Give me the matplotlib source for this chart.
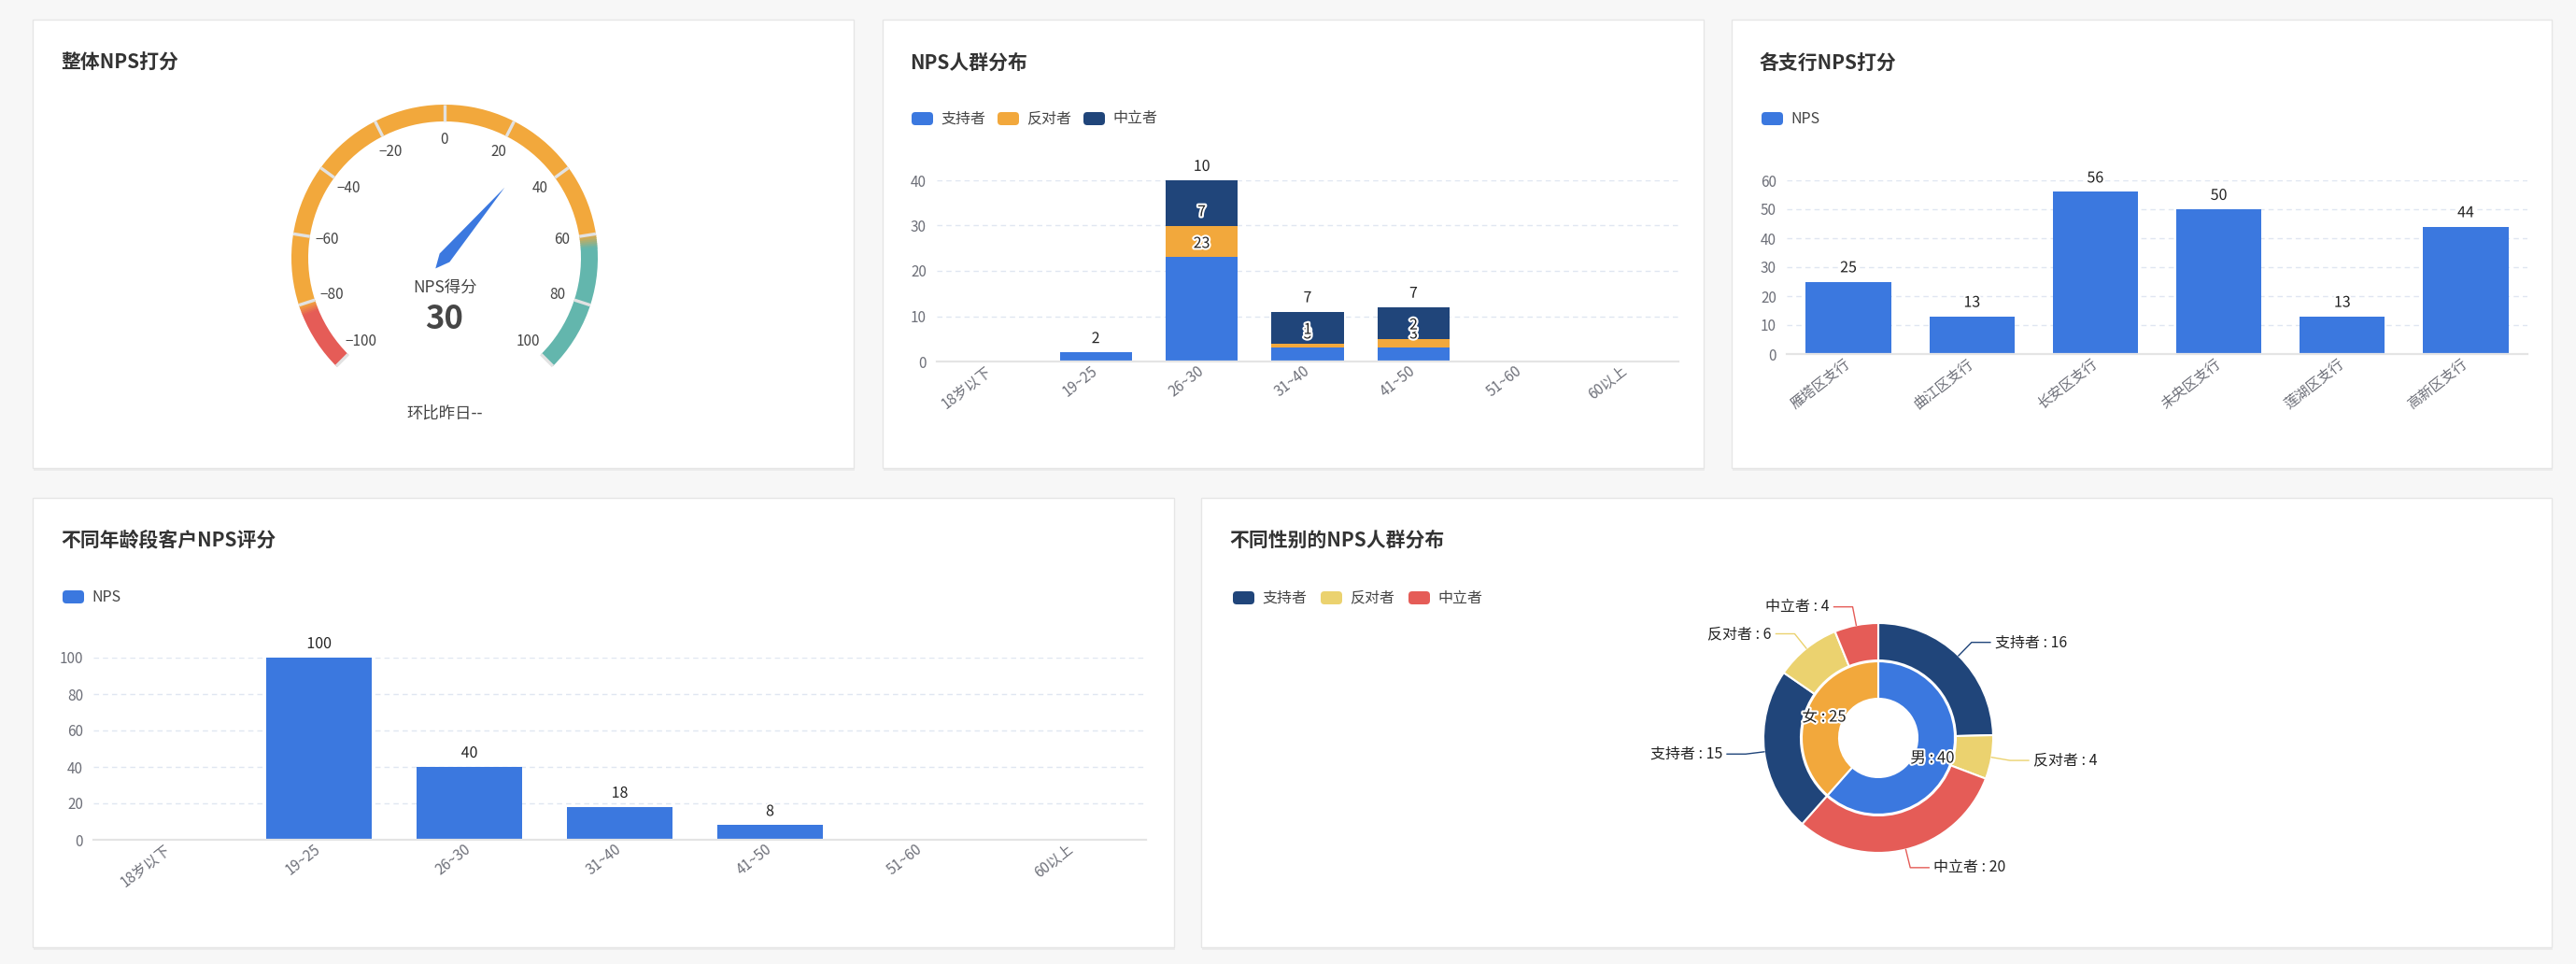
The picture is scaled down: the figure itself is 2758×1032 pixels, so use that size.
import matplotlib.pyplot as plt
import matplotlib.patheffects as pe
from matplotlib.colors import to_rgb
from matplotlib.patches import Wedge, FancyBboxPatch, Rectangle, Polygon
import numpy as np

# ---- 数据 ----
nps_score = 30
gauge_ticks = [-100, -80, -60, -40, -20, 0, 20, 40, 60, 80, 100]

age_groups = ['18岁以下', '19~25', '26~30', '31~40', '41~50', '51~60', '60以上']
group_names = ['支持者', '反对者', '中立者']
promoters = [0, 2, 23, 3, 3, 0, 0]
detractors = [0, 0, 7, 1, 2, 0, 0]
passives = [0, 0, 10, 7, 7, 0, 0]

branches = ['雁塔区支行', '曲江区支行', '长安区支行', '未央区支行', '莲湖区支行', '高新区支行']
branch_nps = [25, 13, 56, 50, 13, 44]

age_nps = [0, 100, 40, 18, 8, 0, 0]

genders = ['男', '女']
gender_counts = [40, 25]
ring_names = ['支持者', '反对者', '中立者', '支持者', '反对者', '中立者']
ring_counts = [16, 4, 20, 15, 6, 4]

# ---- 样式 ----
BLUE, ORANGE, NAVY = '#3b78df', '#f2a83c', '#20457a'
YELLOW, RED, TEAL = '#ebd26f', '#e55c57', '#63b6ad'
TXT, AXT = '#333333', '#6e7079'
halo = [pe.withStroke(linewidth=3, foreground='white')]

W, H = 2758, 1032
plt.rcParams['font.family'] = ['Noto Sans CJK SC', 'DejaVu Sans']

fig = plt.figure(figsize=(W / 100, H / 100), dpi=100, facecolor='#f7f7f7')
base = fig.add_axes([0, 0, 1, 1])
base.set_xlim(0, W)
base.set_ylim(0, H)
base.axis('off')


def Y(y):
    return H - y


# 卡片背景
panels = [(35, 21, 914, 501), (945, 21, 1824, 501), (1854, 21, 2732, 501),
          (35, 533, 1257, 1014), (1286, 533, 2732, 1014)]
for x0, y0, x1, y1 in panels:
    base.add_patch(Rectangle((x0 + 1, Y(y1) - 3), x1 - x0, y1 - y0, fc='#ececec', ec='none'))
    base.add_patch(Rectangle((x0, Y(y1)), x1 - x0, y1 - y0, fc='white', ec='#e6e6e6', lw=1))

titles = [('整体NPS打分', 65, 67), ('NPS人群分布', 974, 67), ('各支行NPS打分', 1884, 67),
          ('不同年龄段客户NPS评分', 65, 578), ('不同性别的NPS人群分布', 1316, 578)]
for t, x, y in titles:
    base.text(x, Y(y), t, fontsize=15, fontweight='bold', color=TXT, va='center', ha='left')


def legend(x, y, labels, colors, step=92):
    for i, (lab, col) in enumerate(zip(labels, colors)):
        xi = x + i * step
        base.add_patch(FancyBboxPatch((xi, Y(y) - 7), 23, 14,
                                      boxstyle='round,pad=0,rounding_size=4', fc=col, ec='none'))
        base.text(xi + 31, Y(y), lab, fontsize=11.5, color='#444444', va='center', ha='left')


legend(976, 127, group_names, [BLUE, ORANGE, NAVY])
legend(1886, 127, ['NPS'], [BLUE])
legend(67, 639, ['NPS'], [BLUE])
legend(1320, 640, group_names, [NAVY, YELLOW, RED], step=94)

# ---- 仪表盘 ----
gx, gy, gr, gw = 476, Y(276), 164, 18


def g_angle(v):
    return 225 - (v + 100) / 200 * 270


def band_color(f):
    c_r, c_o, c_t = np.array(to_rgb(RED)), np.array(to_rgb(ORANGE)), np.array(to_rgb(TEAL))
    if f < 0.085:
        return c_r
    if f < 0.1:
        return c_r + (c_o - c_r) * (f - 0.085) / 0.015
    if f < 0.8:
        return c_o
    if f < 0.82:
        return c_o + (c_t - c_o) * (f - 0.8) / 0.02
    return c_t


edges = list(np.linspace(0, 0.085, 2)) + list(np.linspace(0.085, 0.1, 7))[1:] + \
    [0.8] + list(np.linspace(0.8, 0.82, 8))[1:] + [1.0]
for f0, f1 in zip(edges[:-1], edges[1:]):
    a0, a1 = 225 - f0 * 270, 225 - f1 * 270
    base.add_patch(Wedge((gx, gy), gr, a1, a0 + 0.3, width=gw,
                         fc=band_color((f0 + f1) / 2), ec='none'))

for v in gauge_ticks:
    a = np.radians(g_angle(v))
    base.plot([gx + (gr - gw) * np.cos(a), gx + gr * np.cos(a)],
              [gy + (gr - gw) * np.sin(a), gy + gr * np.sin(a)],
              color='#e2e2e2', lw=2.4, solid_capstyle='butt')
    base.text(gx + 127 * np.cos(a), gy + 127 * np.sin(a), str(v).replace('-', '\u2212'),
              fontsize=11, color='#464646', ha='center', va='center')

a = np.radians(g_angle(nps_score))
u = np.array([np.cos(a), np.sin(a)])
n = np.array([-np.sin(a), np.cos(a)])
c = np.array([gx, gy])
needle = [c + u * 99, c + n * 7, c - u * 15, c - n * 7]
base.add_patch(Polygon(needle, closed=True, fc=BLUE, ec='none'))

base.text(gx, Y(308), 'NPS得分', fontsize=12.5, color='#444444', ha='center', va='center')
base.text(gx, Y(342), str(nps_score), fontsize=25, fontweight='bold', color='#464646',
          ha='center', va='center')
base.text(gx, Y(443), '环比昨日--', fontsize=12.5, color='#444444', ha='center', va='center')


# ---- 柱状图 ----
def bar_axes(left, right, top, bottom):
    ax = fig.add_axes([left / W, 1 - bottom / H, (right - left) / W, (bottom - top) / H])
    ax.patch.set_visible(False)
    for s in ['top', 'right', 'left']:
        ax.spines[s].set_visible(False)
    ax.spines['bottom'].set_color('#e4e4e4')
    ax.spines['bottom'].set_linewidth(1.6)
    ax.grid(axis='y', linestyle=(0, (4, 3)), color='#e0e6f1', lw=1)
    ax.set_axisbelow(True)
    ax.tick_params(length=0, colors=AXT, labelsize=11)
    ax.tick_params(axis='y', pad=8)
    ax.tick_params(axis='x', pad=6)
    return ax


def xlabels(ax, cats):
    ax.set_xticks(range(len(cats)))
    ax.set_xticklabels(cats, rotation=38, ha='right', va='center', rotation_mode='anchor')
    ax.set_xlim(-0.5, len(cats) - 0.5)


def value_labels(ax, xs, bottoms, heights):
    for x, b, h in zip(xs, bottoms, heights):
        if h:
            ax.annotate(str(h), (x, b + h), xytext=(0, 10.5), textcoords='offset points',
                        ha='center', va='center', fontsize=11.5, color='#222222',
                        path_effects=halo)


# NPS人群分布
ax2 = bar_axes(1003, 1797, 193, 387)
x = np.arange(len(age_groups))
p = np.array(promoters)
d = np.array(detractors)
m = np.array(passives)
ax2.bar(x, p, 0.68, color=BLUE)
ax2.bar(x, d, 0.68, bottom=p, color=ORANGE)
ax2.bar(x, m, 0.68, bottom=p + d, color=NAVY)
value_labels(ax2, x, np.zeros(len(x)), p)
value_labels(ax2, x, p, d)
value_labels(ax2, x, p + d, m)
ax2.set_ylim(0, 40)
ax2.set_yticks([0, 10, 20, 30, 40])
xlabels(ax2, age_groups)

# 各支行NPS打分
ax3 = bar_axes(1913, 2706, 193, 379)
x = np.arange(len(branches))
ax3.bar(x, branch_nps, 0.69, color=BLUE)
value_labels(ax3, x, np.zeros(len(x)), branch_nps)
ax3.set_ylim(0, 60)
ax3.set_yticks(range(0, 61, 10))
xlabels(ax3, branches)

# 不同年龄段客户NPS评分
ax4 = bar_axes(100, 1227, 704, 899)
x = np.arange(len(age_groups))
ax4.bar(x, age_nps, 0.70, color=BLUE)
value_labels(ax4, x, np.zeros(len(x)), age_nps)
ax4.set_ylim(0, 100)
ax4.set_yticks(range(0, 101, 20))
xlabels(ax4, age_groups)

# ---- 环形图 ----
dc = (2011, 790)
half = 230
ax5 = fig.add_axes([(dc[0] - half) / W, 1 - (dc[1] + half) / H, 2 * half / W, 2 * half / H])
inner, _ = ax5.pie(gender_counts, radius=82, startangle=90, counterclock=False,
                   colors=[BLUE, ORANGE],
                   wedgeprops=dict(width=40, edgecolor='white', linewidth=1.5))
outer, _ = ax5.pie(ring_counts, radius=123, startangle=90, counterclock=False,
                   colors=[NAVY, YELLOW, RED, NAVY, YELLOW, RED],
                   wedgeprops=dict(width=40, edgecolor='white', linewidth=1.5))
ax5.set_xlim(-half, half)
ax5.set_ylim(-half, half)
ax5.axis('off')

for w, name, val in zip(inner, genders, gender_counts):
    mid = np.radians((w.theta1 + w.theta2) / 2)
    ax5.text(62 * np.cos(mid), 62 * np.sin(mid), f'{name} : {val}', fontsize=12,
             color='#222222', ha='center', va='center', path_effects=halo)

for w, name, val in zip(outer, ring_names, ring_counts):
    mid = np.radians((w.theta1 + w.theta2) / 2)
    cs, sn = np.cos(mid), np.sin(mid)
    side = 1 if cs >= 0 else -1
    p1 = (123 * cs, 123 * sn)
    p2 = (143 * cs, 143 * sn)
    p3 = (p2[0] + side * 20, p2[1])
    ax5.plot([p1[0], p2[0], p3[0]], [p1[1], p2[1], p3[1]], color=w.get_facecolor(), lw=1)
    ax5.text(p3[0] + side * 5, p3[1], f'{name} : {val}', fontsize=11.5, color='#222222',
             ha='left' if side > 0 else 'right', va='center')

fig.savefig('out.png', dpi=100, facecolor=fig.get_facecolor())
